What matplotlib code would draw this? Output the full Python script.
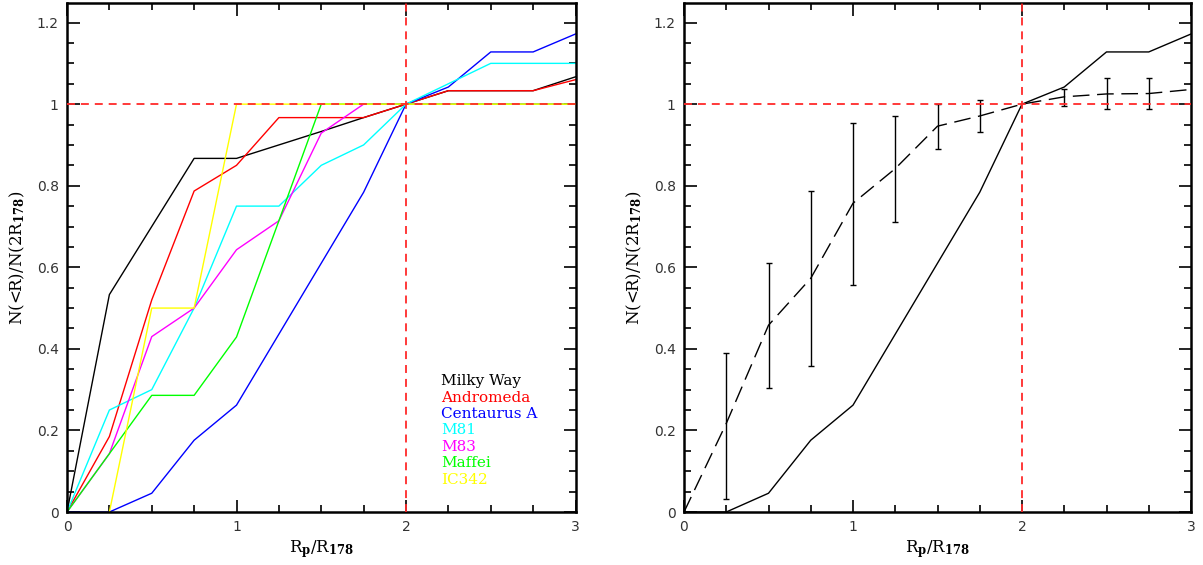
import numpy as np
import matplotlib
matplotlib.use("Agg")
import matplotlib.pyplot as plt
from matplotlib.ticker import MultipleLocator, FuncFormatter

plt.rcParams['mathtext.fontset'] = 'custom'
plt.rcParams['mathtext.rm'] = 'DejaVu Serif:bold'
plt.rcParams['mathtext.it'] = 'DejaVu Serif:bold'
plt.rcParams['mathtext.bf'] = 'DejaVu Serif:bold'

# ---- data ----
x = [0, 0.25, 0.5, 0.75, 1.0, 1.25, 1.5, 1.75, 2.0, 2.25, 2.5, 2.75, 3.0]
milky_way = [0, 0.533, 0.70, 0.867, 0.867, 0.90, 0.933, 0.967, 1.0, 1.033, 1.033, 1.033, 1.067]
andromeda = [0, 0.185, 0.52, 0.787, 0.85, 0.967, 0.967, 0.967, 1.0, 1.033, 1.033, 1.033, 1.06]
centaurus = [0, 0, 0.046, 0.176, 0.262, 0.436, 0.61, 0.784, 1.0, 1.042, 1.128, 1.128, 1.172]
m81 = [0, 0.25, 0.30, 0.50, 0.75, 0.75, 0.85, 0.90, 1.0, 1.05, 1.10, 1.10, 1.10]
m83 = [0, 0.143, 0.43, 0.50, 0.643, 0.714, 0.929, 1.0, 1.0, 1.0, 1.0, 1.0, 1.0]
maffei = [0, 0.143, 0.286, 0.286, 0.429, 0.714, 1.0, 1.0, 1.0, 1.0, 1.0, 1.0, 1.0]
ic342 = [np.nan, 0, 0.5, 0.5, 1.0, 1.0, 1.0, 1.0, 1.0, 1.0, 1.0, 1.0, 1.0]

names = ['Milky Way', 'Andromeda', 'Centaurus A', 'M81', 'M83', 'Maffei', 'IC342']
series = [milky_way, andromeda, centaurus, m81, m83, maffei, ic342]
colors = ['black', '#ff0000', '#0000ff', '#00ffff', '#ff00ff', '#00ff00', '#ffff00']

mean_y = [0, 0.217, 0.458, 0.573, 0.757, 0.842, 0.946, 0.971, 1.0, 1.018, 1.025, 1.026, 1.036]
err_lo = [np.nan, 0.032, 0.303, 0.359, 0.556, 0.710, 0.889, 0.932, np.nan, 0.995, 0.987, 0.987, np.nan]
err_hi = [np.nan, 0.389, 0.610, 0.788, 0.954, 0.971, 1.001, 1.010, np.nan, 1.038, 1.065, 1.065, np.nan]

xlabel = r'R$_{\mathrm{p}}$/R$_{\mathrm{178}}$'
ylabel = r'N(<R)/N(2R$_{\mathrm{178}}$)'

fig = plt.figure(figsize=(12.03, 5.65), dpi=100)
axL = fig.add_axes([67/1203, 53/565, 508.5/1203, 509/565])
axR = fig.add_axes([684/1203, 53/565, 507/1203, 509/565])


def yfmt(v, p):
    if abs(v) < 1e-9:
        return '0'
    return f'{v:.1f}'.rstrip('0').rstrip('.')


def style(ax):
    ax.set_xlim(0, 3)
    ax.set_ylim(0, 1.248)
    ax.xaxis.set_major_locator(MultipleLocator(1))
    ax.xaxis.set_minor_locator(MultipleLocator(0.25))
    ax.yaxis.set_major_locator(MultipleLocator(0.2))
    ax.yaxis.set_minor_locator(MultipleLocator(0.05))
    ax.yaxis.set_major_formatter(FuncFormatter(yfmt))
    ax.xaxis.set_major_formatter(FuncFormatter(lambda v, p: f'{v:g}'))
    ax.tick_params(which='both', direction='in', top=True, right=True, width=1.2,
                   colors='black', labelcolor='#333333', labelsize=10)
    ax.tick_params(which='major', length=9, pad=6)
    ax.tick_params(which='minor', length=5)
    for s in ax.spines.values():
        s.set_linewidth(1.8)
    ax.set_xlabel(xlabel, fontsize=12, labelpad=3, family='DejaVu Serif')
    ax.set_ylabel(ylabel, fontsize=12, labelpad=7, family='DejaVu Serif')


def ref_lines(ax):
    ax.axhline(1.0, color='#ff2a2a', lw=1.3, dashes=(4.4, 3.3), zorder=5)
    ax.axvline(2.0, color='#ff2a2a', lw=1.3, dashes=(4.4, 3.3), zorder=5)


# left panel
for ys, c in zip(series, colors):
    axL.plot(x, ys, color=c, lw=1.0)
ref_lines(axL)
style(axL)
for i, (n, c) in enumerate(zip(names, colors)):
    axL.text(2.206, 0.311 - i * 0.0402, n, color=c, fontsize=11,
             family='DejaVu Serif', va='baseline', ha='left')

# right panel
axR.plot(x, centaurus, color='black', lw=1.0)
axR.plot(x, mean_y, color='black', lw=1.0, dashes=(12, 5.5))
mean_arr = np.array(mean_y)
lo = np.array(err_lo)
hi = np.array(err_hi)
mask = ~np.isnan(lo)
xa = np.array(x)
axR.errorbar(xa[mask], mean_arr[mask],
             yerr=[mean_arr[mask] - lo[mask], hi[mask] - mean_arr[mask]],
             fmt='none', ecolor='black', elinewidth=1.0, capsize=2, capthick=1.0)
ref_lines(axR)
style(axR)

fig.savefig('out.png', dpi=100)
